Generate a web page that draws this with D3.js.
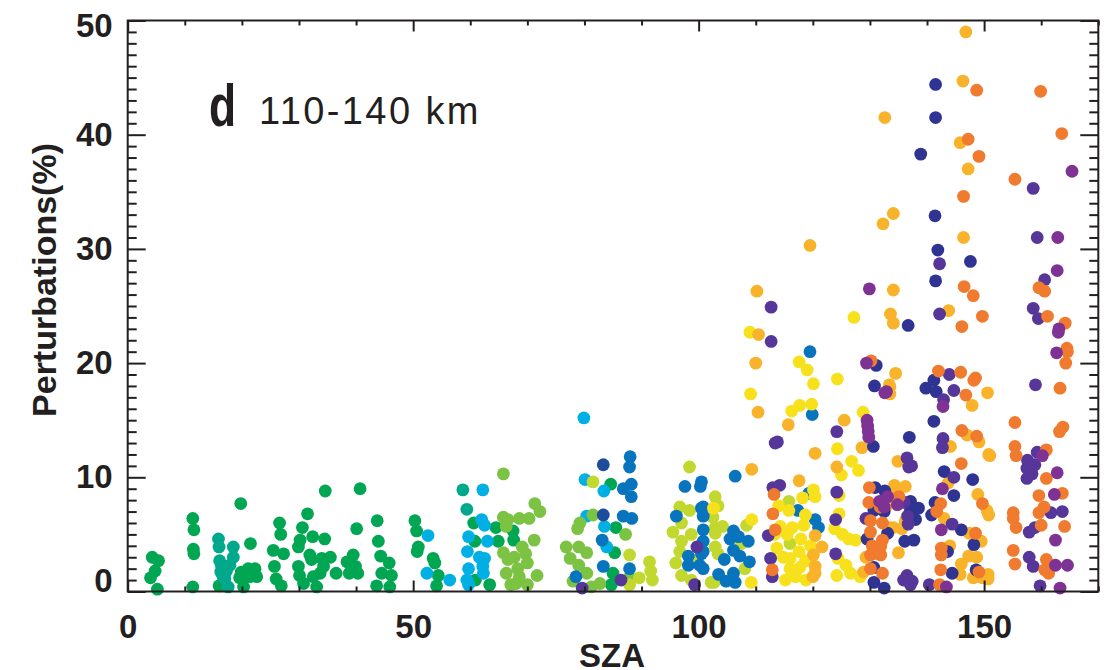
<!DOCTYPE html>
<html>
<head>
<meta charset="utf-8">
<script src="https://cdn.jsdelivr.net/npm/d3@7"></script>
<style>
  html, body { margin: 0; padding: 0; background: #ffffff; }
  svg { display: block; }
  .axis path, .axis line { stroke: #231f20; }
  .ticklabel text { font-family: "Liberation Sans", Arial, Helvetica, sans-serif; font-weight: bold; font-size: 33px; fill: #231f20; }
</style>
</head>
<body>
<svg id="chart" width="1117" height="670"></svg>
<script>
// [SZA (deg), perturbation (%)], one list per colour
var green = [
    [4.3, 3.0], [5.4, 2.7], [4.8, 1.8], [4.0, 1.2], [5.2, 0.2],
    [11.4, 6.4], [11.6, 5.4], [11.5, 3.7], [11.6, 3.3], [11.4, 0.4],
    [16.0, 0.5], [19.8, 7.7], [19.9, 1.7], [21.1, 2.0], [22.3, 2.0], [21.5, 4.2], [20.3, 0.4], [22.6, 1.3], [19.6, 1.2], [21.4, 1.3],
    [25.5, 3.6], [26.6, 6.0], [26.8, 5.0], [25.7, 2.2], [26.0, 1.1], [26.9, 0.5], [27.3, 3.3],
    [29.9, 3.9], [30.2, 4.5], [30.6, 5.6], [31.5, 6.8], [32.4, 4.8], [31.9, 3.2], [32.2, 2.8], [29.9, 2.2], [30.1, 1.4],
    [30.8, 0.7], [33.1, 0.4], [34.6, 8.8], [34.5, 4.6], [34.0, 2.9], [35.5, 3.0], [34.3, 2.2], [33.7, 1.6], [36.5, 1.6], [32.5, 1.3],
    [40.7, 9.0], [40.1, 5.5], [39.5, 3.2], [38.4, 2.6], [38.8, 1.6], [40.3, 1.6], [39.9, 2.2],
    [43.7, 6.2], [43.9, 4.4], [44.3, 3.1], [45.8, 2.5], [44.5, 1.6], [46.2, 1.4], [43.6, 0.5], [45.9, 0.4],
    [50.3, 6.2], [50.6, 5.3], [50.9, 3.9], [50.7, 3.5], [53.5, 2.9], [53.8, 2.5], [54.4, 1.4], [54.1, 0.5],
    [60.6, 6.0], [60.8, 4.4], [60.9, 1.0], [63.4, 0.6], [64.5, 5.6], [64.9, 4.4], [67.5, 5.3], [67.6, 4.5],
    [84.6, 9.4], [85.5, 5.6], [85.3, 3.4], [85.0, 1.6], [84.7, 0.6]
];
var teal = [
    [15.9, 4.6], [16.0, 3.9], [16.1, 2.7], [16.4, 2.3], [16.3, 1.7], [16.7, 1.3], [17.6, 0.4],
    [18.5, 3.9], [18.5, 3.0], [17.9, 2.3], [17.3, 1.8], [17.0, 1.1], [58.7, 8.9], [59.4, 7.2]
];
var cyan = [
    [52.6, 4.9], [52.4, 1.6], [56.4, 1.0], [62.2, 8.9], [62.0, 6.3], [62.5, 5.8], [59.7, 4.8], [63.0, 4.4],
    [59.5, 3.5], [61.6, 3.0], [62.5, 2.9], [62.2, 2.2], [59.7, 2.0], [59.4, 1.0], [59.7, 0.6], [62.3, 1.6],
    [79.9, 15.2], [80.1, 9.8], [83.4, 8.8], [80.4, 6.6], [83.5, 5.7], [83.9, 3.9]
];
var lightGreen = [
    [65.8, 10.3], [65.8, 6.5], [66.6, 6.3], [66.3, 5.7], [65.8, 3.4], [66.6, 2.8], [67.7, 3.0], [66.3, 1.6], [68.3, 2.0],
    [69.1, 3.9], [69.7, 3.3], [70.0, 2.5], [68.6, 6.4], [70.3, 6.4], [71.3, 7.7], [72.2, 7.0], [71.2, 4.5], [71.7, 1.4],
    [70.0, 0.6], [67.1, 0.6], [68.0, 0.7], [68.6, 1.3],
    [79.2, 6.0], [81.5, 6.7], [87.2, 5.0], [79.0, 3.9], [80.4, 3.4], [79.0, 2.3], [80.4, 1.6], [87.9, 1.2], [81.2, 0.4],
    [82.7, 0.7], [76.8, 3.9], [78.8, 5.5], [77.5, 2.9], [78.0, 0.9]
];
var lime = [
    [81.5, 9.6], [87.9, 3.2], [89.6, 1.2], [91.4, 2.6], [91.6, 1.8], [91.9, 1.0], [87.9, 0.6],
    [98.4, 10.9], [96.7, 7.4], [98.4, 7.1], [97.0, 6.0], [98.7, 5.0], [97.0, 4.4], [96.7, 3.5], [97.0, 1.4], [98.7, 1.0],
    [102.2, 0.8], [102.9, 8.3], [102.9, 5.6], [102.9, 3.9], [103.4, 7.5], [102.5, 6.5], [104.2, 5.7], [102.9, 5.1],
    [103.4, 3.3], [108.4, 5.8], [107.5, 4.2], [108.1, 2.0], [102.7, 0.8], [115.8, 7.9], [116.0, 4.2],
    [95.5, 5.2], [96.0, 2.5], [99.5, 2.7]
];
var blue = [
    [88.0, 11.8], [87.9, 10.9], [86.8, 9.0], [88.2, 9.4], [88.2, 8.3], [86.8, 6.6], [88.3, 6.4], [83.1, 4.5], [78.5, 1.3],
    [83.3, 2.2], [87.9, 2.0],
    [97.6, 9.2], [100.3, 9.2], [100.5, 9.6], [96.1, 6.6], [100.5, 7.3], [100.8, 6.6], [100.8, 5.4], [100.8, 4.4], [98.2, 3.1],
    [100.5, 3.3], [100.2, 2.3], [98.2, 2.3], [100.8, 7.4], [100.8, 3.5], [100.8, 2.0],
    [106.1, 5.3], [107.0, 4.8], [108.7, 4.4], [106.1, 3.6], [107.2, 3.1], [108.9, 2.6], [106.1, 1.6], [106.4, 0.8], [106.4, 10.1],
    [119.5, 21.0], [119.9, 15.5], [119.3, 8.6], [117.4, 7.1], [120.4, 6.3], [121.0, 5.6],
    [103.5, 1.5], [104.8, 0.9], [105.5, 4.6], [104.5, 2.8]
];
var darkBlue = [[83.3, 11.1], [83.3, 6.7]];
var yellow = [
    [109.0, 22.7], [109.1, 17.3], [127.2, 24.0], [117.6, 20.1], [119.0, 19.4], [120.1, 18.2], [124.3, 18.6], [117.7, 16.3],
    [116.3, 15.8], [119.8, 16.4], [124.3, 12.5], [125.0, 10.2], [126.8, 11.4], [128.0, 10.6], [128.8, 15.7],
    [120.1, 8.9], [120.4, 8.3], [118.2, 8.2], [115.8, 7.1], [118.7, 6.7], [118.4, 5.8], [116.4, 5.6], [114.3, 5.7], [113.3, 5.0],
    [115.5, 5.0], [117.9, 4.6], [113.7, 3.8], [117.6, 3.5], [116.0, 2.9], [118.7, 2.7], [116.0, 2.0], [117.7, 2.1], [117.0, 1.3],
    [124.6, 8.4], [124.6, 6.8], [123.8, 5.5], [125.2, 5.0], [126.3, 4.6], [127.5, 4.5], [124.4, 2.9], [125.8, 2.3], [126.6, 1.6],
    [124.2, 1.4], [128.3, 1.3], [109.3, 6.3], [109.2, 0.8], [102.6, 7.3],
    [114.8, 3.0], [115.2, 1.0], [118.8, 1.0], [119.6, 4.0], [114.0, 7.5]
];
var gold = [
    [119.5, 30.3], [110.2, 26.3], [110.5, 22.5], [110.0, 20.0], [110.4, 15.7], [109.3, 10.7], [115.7, 14.6], [120.4, 12.1],
    [125.5, 15.0], [124.2, 10.9], [128.6, 12.6], [133.5, 17.9], [117.6, 9.7], [120.4, 4.9], [121.6, 3.9], [120.1, 3.2],
    [120.4, 2.2], [120.4, 1.6], [120.0, 1.3], [133.4, 5.6], [131.8, 3.8], [129.3, 3.0], [128.9, 1.7],
    [146.8, 49.0], [146.3, 44.7], [132.6, 41.5], [145.8, 39.3], [147.2, 37.0], [134.1, 33.1], [132.3, 32.2], [146.4, 31.0],
    [134.1, 26.4], [133.6, 24.3], [134.1, 23.5], [143.8, 24.6],
    [134.5, 19.1], [133.4, 18.1], [133.5, 17.3], [147.9, 16.3], [150.6, 17.4], [147.0, 13.7], [149.1, 13.1], [150.8, 12.0],
    [144.1, 12.7], [134.9, 11.4], [143.7, 9.5], [148.9, 8.5], [150.5, 7.1], [150.8, 6.7], [134.3, 9.3], [134.4, 8.8],
    [132.9, 7.5], [133.2, 5.2], [134.1, 5.6], [131.2, 3.3], [143.0, 6.4], [147.4, 5.1], [149.5, 4.4], [144.0, 4.0],
    [147.3, 3.1], [148.7, 3.0], [146.0, 2.4], [145.8, 1.5], [148.1, 1.2], [150.7, 1.5], [149.7, 1.2], [150.7, 1.1],
    [151.0, 11.9], [136.2, 9.2], [136.2, 7.8], [135.6, 5.5], [136.2, 6.2], [135.0, 3.4]
];
var orange = [
    [113.2, 8.5], [113.0, 6.8], [113.4, 5.4], [112.9, 1.9], [130.2, 20.2], [129.9, 9.1], [129.8, 7.8], [130.1, 6.2],
    [130.1, 5.2], [130.4, 4.0], [130.1, 3.2], [130.1, 2.0],
    [148.7, 43.9], [147.2, 39.6], [149.1, 38.1], [146.4, 34.6], [146.5, 26.7], [148.1, 25.9], [149.7, 24.1], [146.1, 23.2],
    [142.0, 19.3], [145.9, 19.2], [148.5, 18.7], [148.2, 18.5], [146.8, 17.2], [146.1, 14.1], [148.7, 13.6], [146.0, 11.2],
    [149.7, 7.7], [142.4, 7.7], [141.7, 7.0], [148.5, 5.1], [142.5, 3.8], [142.5, 3.2], [142.4, 1.9], [149.1, 1.7], [142.2, 0.6],
    [131.8, 7.4], [132.2, 6.0], [132.2, 4.5], [131.9, 4.0], [131.9, 3.2], [132.2, 1.6], [135.1, 8.3],
    [159.9, 43.8], [163.6, 40.1], [155.4, 36.1], [159.6, 26.6], [160.6, 26.3], [161.1, 24.1], [164.2, 23.5],
    [164.5, 21.3], [164.6, 21.0], [164.3, 20.0], [163.3, 17.8], [155.4, 14.8], [163.8, 14.4], [163.2, 14.0], [155.4, 12.7],
    [155.6, 11.9], [160.9, 12.4], [160.9, 9.9], [159.6, 8.4], [163.7, 8.6], [155.1, 6.9], [155.1, 6.4], [155.6, 5.6],
    [160.5, 7.4], [159.6, 6.9], [160.0, 5.8], [164.1, 5.7], [155.1, 3.6], [155.4, 2.4], [160.9, 2.8], [160.6, 1.9], [161.3, 1.6]
];
var navy = [
    [130.9, 9.1], [130.7, 7.1], [129.5, 4.6], [130.7, 2.1], [130.7, 0.8], [131.1, 19.8], [130.8, 18.0], [130.6, 12.7],
    [141.5, 44.4], [141.5, 41.5], [138.9, 38.3], [141.4, 32.9], [141.9, 29.9], [147.6, 28.9], [141.5, 27.2], [136.7, 23.3],
    [141.2, 18.5], [139.8, 17.8], [141.6, 17.5], [141.2, 14.9], [136.9, 13.5], [143.0, 10.5], [148.0, 9.8], [144.7, 8.4],
    [137.1, 7.1], [141.4, 7.8], [140.8, 6.7], [146.0, 5.4], [148.2, 4.1], [143.6, 3.5], [144.4, 1.6], [148.6, 1.9],
    [132.6, 8.8], [132.5, 7.0], [133.1, 5.1], [132.5, 0.3], [137.1, 7.9], [137.7, 7.1], [138.0, 6.3], [138.5, 7.3],
    [137.7, 4.5], [136.1, 4.4]
];
var indigo = [
    [112.7, 24.9], [112.7, 21.9], [113.4, 13.0], [113.8, 13.1], [114.2, 9.3], [113.0, 9.1], [112.2, 4.9], [112.6, 2.9],
    [112.9, 1.3], [124.2, 14.0], [124.2, 8.7], [124.0, 6.3], [124.0, 3.3], [129.3, 6.4],
    [99.7, 3.9], [99.3, 0.6], [86.4, 1.0], [79.6, 0.3],
    [142.2, 28.7], [142.2, 24.3], [143.9, 19.0], [144.7, 17.6], [142.9, 16.8], [142.8, 13.4], [142.7, 12.6], [136.5, 11.7],
    [137.3, 11.0], [144.7, 10.0], [136.0, 7.8], [136.6, 6.6], [136.7, 5.9], [144.4, 5.9], [135.9, 1.0], [136.5, 1.4],
    [140.4, 0.6], [137.4, 0.9], [137.1, 0.6], [136.8, 10.9],
    [158.6, 35.3], [159.3, 31.0], [160.6, 27.3], [158.6, 24.8], [159.5, 23.9], [159.0, 18.1], [159.3, 12.2], [157.6, 11.5],
    [158.9, 11.1], [157.5, 10.8], [158.4, 10.3], [157.5, 9.9], [161.7, 6.9], [163.7, 7.0], [158.9, 5.6], [157.9, 5.2],
    [157.9, 3.0], [158.6, 2.2], [159.8, 0.5]
];
var purple = [
    [129.9, 26.5], [129.5, 15.0], [129.6, 14.5], [129.7, 14.0], [129.8, 13.5], [129.4, 20.0], [132.9, 17.5], [132.5, 7.4],
    [132.6, 17.4], [142.8, 16.2], [142.7, 9.0], [133.1, 8.3], [142.5, 5.4], [143.4, 0.4], [131.7, 7.9], [134.8, 7.6],
    [165.4, 36.8], [162.9, 31.0], [162.8, 28.1], [163.1, 23.0], [163.0, 22.7], [162.7, 20.9], [160.2, 11.9], [162.8, 10.4],
    [162.3, 8.5], [162.5, 4.5], [162.5, 2.3], [164.6, 2.3], [163.3, 0.3]
];

var xMajor = [0, 50, 100, 150];
var yMajor = [0, 10, 20, 30, 40, 50];

(function () {
    // draw order matters where the colours overlap
    var groups = [
        {pts: green, color: "#00a651"},
        {pts: teal, color: "#00a88c"},
        {pts: cyan, color: "#00b0e4"},
        {pts: lightGreen, color: "#7cc243"},
        {pts: lime, color: "#c2d82f"},
        {pts: blue, color: "#0874bd"},
        {pts: darkBlue, color: "#1d4c9c"},
        {pts: yellow, color: "#f7e11d"},
        {pts: gold, color: "#f8b32a"},
        {pts: navy, color: "#2f3392"},
        {pts: indigo, color: "#563698"},
        {pts: orange, color: "#f07a2d"},
        {pts: purple, color: "#7e3294"}
    ];

    var svg = d3.select("#chart");
    var plotLeft = 127.7, plotRight = 1098.3, plotTop = 20.5, plotBottom = 591.5;

    var x = d3.scaleLinear().domain([0, 170]).range([plotLeft, plotRight]);
    var y = d3.scaleLinear().domain([0, 50]).range([plotBottom, plotTop]);

    var dots = svg.append("g");
    groups.forEach(function (g) {
        dots.selectAll(null)
            .data(g.pts)
            .enter().append("circle")
            .attr("cx", function (d) { return x(d[0]); })
            .attr("cy", function (d) { return y(d[1]); })
            .attr("r", 6.4)
            .attr("fill", g.color);
    });

    // inward ticks on all four sides, minor ticks every 10 on x and every 1 on y
    function addAxis(gen, tx, ty, cls) {
        var g = svg.append("g").attr("class", "axis " + (cls || ""))
            .attr("transform", "translate(" + tx + "," + ty + ")")
            .call(gen);
        g.select(".domain").remove();
        g.selectAll("line").attr("stroke-width", 2);
        return g;
    }

    var xMinor = d3.range(0, 171, 10).filter(function (v) { return v % 50; });
    var yMinor = d3.range(0, 51, 1).filter(function (v) { return v % 10; });

    addAxis(d3.axisBottom(x).tickValues(xMinor).tickSize(-5).tickFormat(""), 0, plotBottom);
    addAxis(d3.axisTop(x).tickValues(xMinor).tickSize(-5).tickFormat(""), 0, plotTop);
    addAxis(d3.axisLeft(y).tickValues(yMinor).tickSize(-9).tickFormat(""), plotLeft, 0);
    addAxis(d3.axisRight(y).tickValues(yMinor).tickSize(-9).tickFormat(""), plotRight, 0);

    addAxis(d3.axisBottom(x).tickValues(xMajor).tickSize(-11).tickPadding(23).tickFormat(d3.format("d")), 0, plotBottom, "ticklabel");
    addAxis(d3.axisTop(x).tickValues(xMajor).tickSize(-11).tickFormat(""), 0, plotTop);
    var yAx = addAxis(d3.axisLeft(y).tickValues(yMajor).tickSize(-18).tickPadding(15).tickFormat(d3.format("d")), plotLeft, 0, "ticklabel");
    addAxis(d3.axisRight(y).tickValues(yMajor).tickSize(-18).tickFormat(""), plotRight, 0);

    // the end labels sit a little inside the frame
    yAx.selectAll("text").attr("dy", function (d) {
        if (d === 0) return "0.0em";
        if (d === 50) return "0.47em";
        return "0.32em";
    });

    svg.append("rect")
        .attr("x", plotLeft).attr("y", plotTop)
        .attr("width", plotRight - plotLeft).attr("height", plotBottom - plotTop)
        .attr("fill", "none").attr("stroke", "#231f20").attr("stroke-width", 2);

    var font = "'Liberation Sans', Arial, Helvetica, sans-serif";

    svg.append("text")
        .attr("transform", "translate(44,280) rotate(-90)")
        .attr("text-anchor", "middle")
        .attr("dy", "0.35em")
        .style("font-family", font).style("font-weight", "bold").style("font-size", "34px")
        .attr("fill", "#231f20")
        .text("Perturbations(%)");

    svg.append("text")
        .attr("x", (plotLeft + plotRight) / 2 - 1).attr("y", 667)
        .attr("text-anchor", "middle")
        .style("font-family", font).style("font-weight", "bold").style("font-size", "33px")
        .attr("fill", "#231f20")
        .text("SZA");

    svg.append("text")
        .attr("transform", "translate(209,126) scale(0.74,1)")
        .style("font-family", font).style("font-weight", "bold").style("font-size", "60px")
        .attr("fill", "#231f20")
        .text("d");

    svg.append("text")
        .attr("x", 259).attr("y", 124)
        .style("font-family", font).style("font-size", "38px").style("letter-spacing", "2.4px")
        .attr("fill", "#231f20")
        .text("110-140 km");
})();
</script>
</body>
</html>
